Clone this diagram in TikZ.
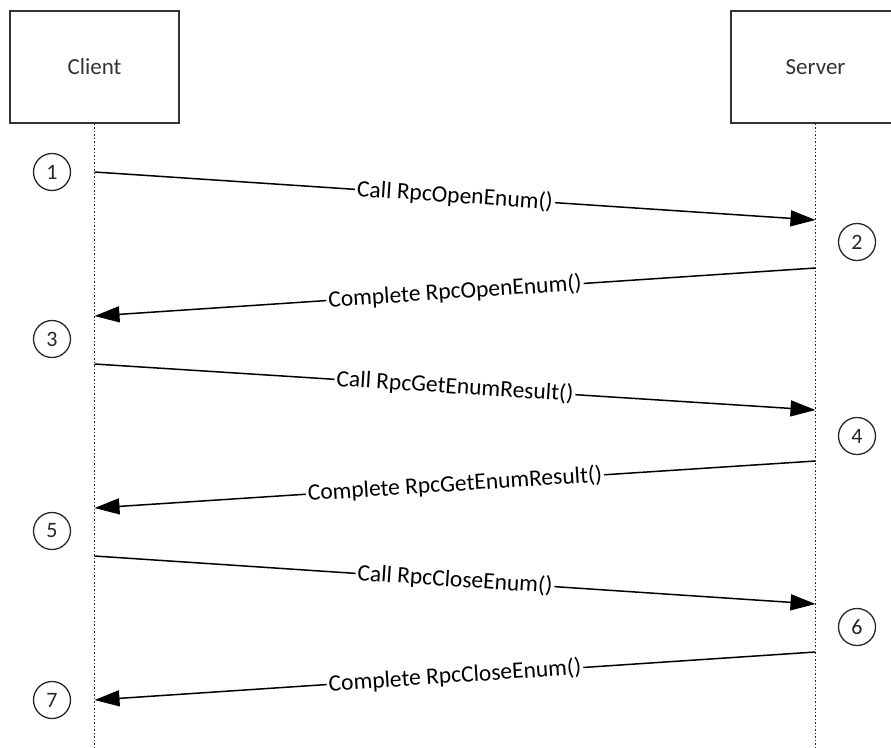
\documentclass[tikz,border=0pt]{standalone}
\usepackage{fontspec}
\setmainfont{Carlito}
\usetikzlibrary{arrows.meta}
\begin{document}
\begin{tikzpicture}[x=1pt,y=-1pt,
  actor/.style={draw=black!80,line width=1.8pt,minimum width=169pt,minimum height=112pt,inner sep=0pt,font=\fontsize{23}{27}\selectfont,text=black!80},
  life/.style={dotted,line width=1.5pt,black!85},
  num/.style={draw=black!85,circle,line width=1.3pt,minimum size=37pt,inner sep=0pt,font=\fontsize{22}{26}\selectfont,text=black!85},
  msg/.style={line width=1.5pt,-{Triangle[length=25pt,width=16pt]}},
  lbl/.style={fill=white,inner sep=2pt,sloped,font=\fontsize{23.5}{27}\selectfont}]
\useasboundingbox (0,0) rectangle (891,747);
\node[actor] (client) at (94.5,67) {Client};
\node[actor] (server) at (815.5,67) {Server};
\coordinate (cb) at (94.5,747);
\coordinate (sb) at (815.5,747);
\draw[life] (client.south) -- (cb);
\draw[life] (server.south) -- (sb);
% endpoints
\coordinate (c1) at (94.5,172); \coordinate (s1) at (815.5,220);
\coordinate (s2) at (815.5,268); \coordinate (c2) at (94.5,316);
\coordinate (c3) at (94.5,364); \coordinate (s3) at (815.5,410);
\coordinate (s4) at (815.5,461); \coordinate (c4) at (94.5,508);
\coordinate (c5) at (94.5,556); \coordinate (s5) at (815.5,604);
\coordinate (s6) at (815.5,652); \coordinate (c6) at (94.5,700);
\draw[msg] (c1) -- node[lbl]{Call RpcOpenEnum()} (s1);
\draw[msg] (s2) -- node[lbl]{Complete RpcOpenEnum()} (c2);
\draw[msg] (c3) -- node[lbl]{Call RpcGetEnumResult()} (s3);
\draw[msg] (s4) -- node[lbl]{Complete RpcGetEnumResult()} (c4);
\draw[msg] (c5) -- node[lbl]{Call RpcCloseEnum()} (s5);
\draw[msg] (s6) -- node[lbl]{Complete RpcCloseEnum()} (c6);
% step numbers
\node[num] (n1) at (52,172) {1};
\node[num] (n2) at (857,242) {2};
\node[num] (n3) at (52,339) {3};
\node[num] (n4) at (857,436) {4};
\node[num] (n5) at (52,531) {5};
\node[num] (n6) at (857,627) {6};
\node[num] (n7) at (52,700) {7};
\end{tikzpicture}
\end{document}
